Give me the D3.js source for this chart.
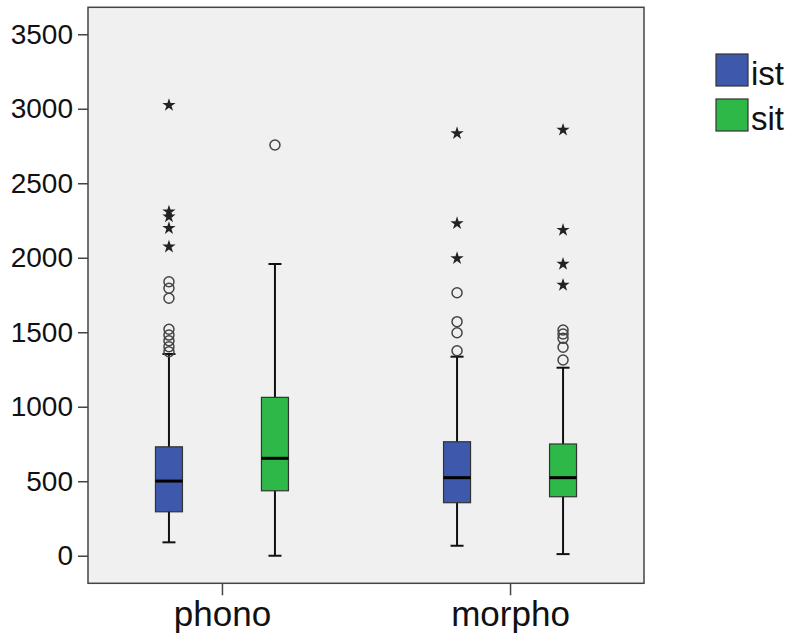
<!DOCTYPE html>
<html>
<head>
<meta charset="utf-8">
<script src="https://cdn.jsdelivr.net/npm/d3@7"></script>
<style>
  body { margin: 0; background: #fff; }
  svg { display: block; font-family: Arial, "Liberation Sans", sans-serif; }
</style>
</head>
<body>
<svg id="chart" width="795" height="642"></svg>
<script>
// categories and series
var categories = ["phono", "morpho"];
var series = ["ist", "sit"];
var yTicks = [0, 500, 1000, 1500, 2000, 2500, 3000, 3500];

// box statistics, one value per category
var istLow = [90, 67];
var istQ1 = [295, 356];
var istMedian = [501, 524];
var istQ3 = [731, 765];
var istHigh = [1354, 1336];

var sitLow = [0, 11];
var sitQ1 = [436, 396];
var sitMedian = [654, 524];
var sitQ3 = [1063, 750];
var sitHigh = [1958, 1262];

// outliers (circles) and extremes (stars)
var istOutliers = [[1839, 1795, 1728, 1520, 1481, 1443, 1403, 1369], [1765, 1571, 1497, 1376]];
var istExtremes = [[3024, 2309, 2276, 2198, 2074], [2835, 2231, 1996]];
var sitOutliers = [[2757], [1515, 1488, 1459, 1399, 1314]];
var sitExtremes = [[], [2858, 2186, 1958, 1817]];

var colors = { ist: "#3E58AC", sit: "#2EB848" };

var plot = { left: 88, right: 644, top: 7.3, bottom: 583.3 };

var svg = d3.select("#chart");

var y = d3.scaleLinear()
  .domain([-185, 3681])
  .range([plot.bottom, plot.top]);

var x = d3.scalePoint()
  .domain(categories)
  .range([plot.left, plot.right])
  .padding(0.465);

var offset = d3.scalePoint()
  .domain(series)
  .range([-53, 53]);

var boxW = 27;
var capW = 13;

// plot background
svg.append("rect")
  .attr("x", plot.left)
  .attr("y", plot.top)
  .attr("width", plot.right - plot.left)
  .attr("height", plot.bottom - plot.top)
  .attr("fill", "#F0F0F0");

// build rows from arrays
var boxes = [];
categories.forEach(function(c, i) {
  boxes.push({ cat: c, s: "ist", low: istLow[i], q1: istQ1[i], med: istMedian[i], q3: istQ3[i], high: istHigh[i], out: istOutliers[i], ext: istExtremes[i] });
  boxes.push({ cat: c, s: "sit", low: sitLow[i], q1: sitQ1[i], med: sitMedian[i], q3: sitQ3[i], high: sitHigh[i], out: sitOutliers[i], ext: sitExtremes[i] });
});

function cx(d) { return x(d.cat) + offset(d.s); }

var g = svg.append("g");

var box = g.selectAll("g.box")
  .data(boxes)
  .enter().append("g")
  .attr("class", "box");

// whisker
box.append("line")
  .attr("x1", cx).attr("x2", cx)
  .attr("y1", function(d) { return y(d.low); })
  .attr("y2", function(d) { return y(d.high); })
  .attr("stroke", "#111").attr("stroke-width", 2);

// caps
box.append("line")
  .attr("x1", function(d) { return cx(d) - capW / 2; })
  .attr("x2", function(d) { return cx(d) + capW / 2; })
  .attr("y1", function(d) { return y(d.low); })
  .attr("y2", function(d) { return y(d.low); })
  .attr("stroke", "#111").attr("stroke-width", 2);
box.append("line")
  .attr("x1", function(d) { return cx(d) - capW / 2; })
  .attr("x2", function(d) { return cx(d) + capW / 2; })
  .attr("y1", function(d) { return y(d.high); })
  .attr("y2", function(d) { return y(d.high); })
  .attr("stroke", "#111").attr("stroke-width", 2);

// box
box.append("rect")
  .attr("x", function(d) { return cx(d) - boxW / 2; })
  .attr("y", function(d) { return y(d.q3); })
  .attr("width", boxW)
  .attr("height", function(d) { return y(d.q1) - y(d.q3); })
  .attr("fill", function(d) { return colors[d.s]; })
  .attr("stroke", "#333").attr("stroke-width", 1.2);

// median
box.append("line")
  .attr("x1", function(d) { return cx(d) - boxW / 2; })
  .attr("x2", function(d) { return cx(d) + boxW / 2; })
  .attr("y1", function(d) { return y(d.med); })
  .attr("y2", function(d) { return y(d.med); })
  .attr("stroke", "#000").attr("stroke-width", 3);

// outlier circles
box.selectAll("circle")
  .data(function(d) { return d.out.map(function(v) { return { v: v, x: cx(d) }; }); })
  .enter().append("circle")
  .attr("cx", function(d) { return d.x; })
  .attr("cy", function(d) { return y(d.v); })
  .attr("r", 5)
  .attr("fill", "none")
  .attr("stroke", "#444").attr("stroke-width", 1.5);

// extreme stars
var star = d3.symbol().type(d3.symbolStar).size(55);
box.selectAll("path.star")
  .data(function(d) { return d.ext.map(function(v) { return { v: v, x: cx(d) }; }); })
  .enter().append("path")
  .attr("class", "star")
  .attr("d", star)
  .attr("transform", function(d) { return "translate(" + d.x + "," + y(d.v) + ")"; })
  .attr("fill", "#222");

// frame
svg.append("rect")
  .attr("x", plot.left)
  .attr("y", plot.top)
  .attr("width", plot.right - plot.left)
  .attr("height", plot.bottom - plot.top)
  .attr("fill", "none")
  .attr("stroke", "#444").attr("stroke-width", 1.5);

// y axis
var yAxis = svg.append("g")
  .attr("transform", "translate(" + plot.left + ",0)")
  .call(d3.axisLeft(y).tickValues(yTicks).tickFormat(d3.format("d")).tickSize(10).tickPadding(5).tickSizeOuter(0));
yAxis.select(".domain").remove();
yAxis.selectAll(".tick line").attr("stroke", "#444").attr("stroke-width", 1.5);
yAxis.selectAll(".tick text")
  .attr("font-size", 28)
  .attr("font-family", "Arial, 'Liberation Sans', sans-serif")
  .attr("fill", "#111");

// x axis
var xAxis = svg.append("g")
  .attr("transform", "translate(0," + plot.bottom + ")")
  .call(d3.axisBottom(x).tickSize(12).tickPadding(6).tickSizeOuter(0));
xAxis.select(".domain").remove();
xAxis.selectAll(".tick line").attr("stroke", "#444").attr("stroke-width", 1.5);
xAxis.selectAll(".tick text")
  .attr("font-size", 35)
  .attr("font-family", "Arial, 'Liberation Sans', sans-serif")
  .attr("fill", "#111");

// legend
var legend = svg.append("g")
  .selectAll("g")
  .data(series)
  .enter().append("g")
  .attr("transform", function(d, i) { return "translate(716," + (54 + i * 45) + ")"; });
legend.append("rect")
  .attr("width", 32).attr("height", 32)
  .attr("fill", function(d) { return colors[d]; })
  .attr("stroke", "#333").attr("stroke-width", 1.2);
legend.append("text")
  .attr("x", 35)
  .attr("y", 31)
  .attr("font-size", 33)
  .attr("fill", "#111")
  .text(function(d) { return d; });
</script>
</body>
</html>
